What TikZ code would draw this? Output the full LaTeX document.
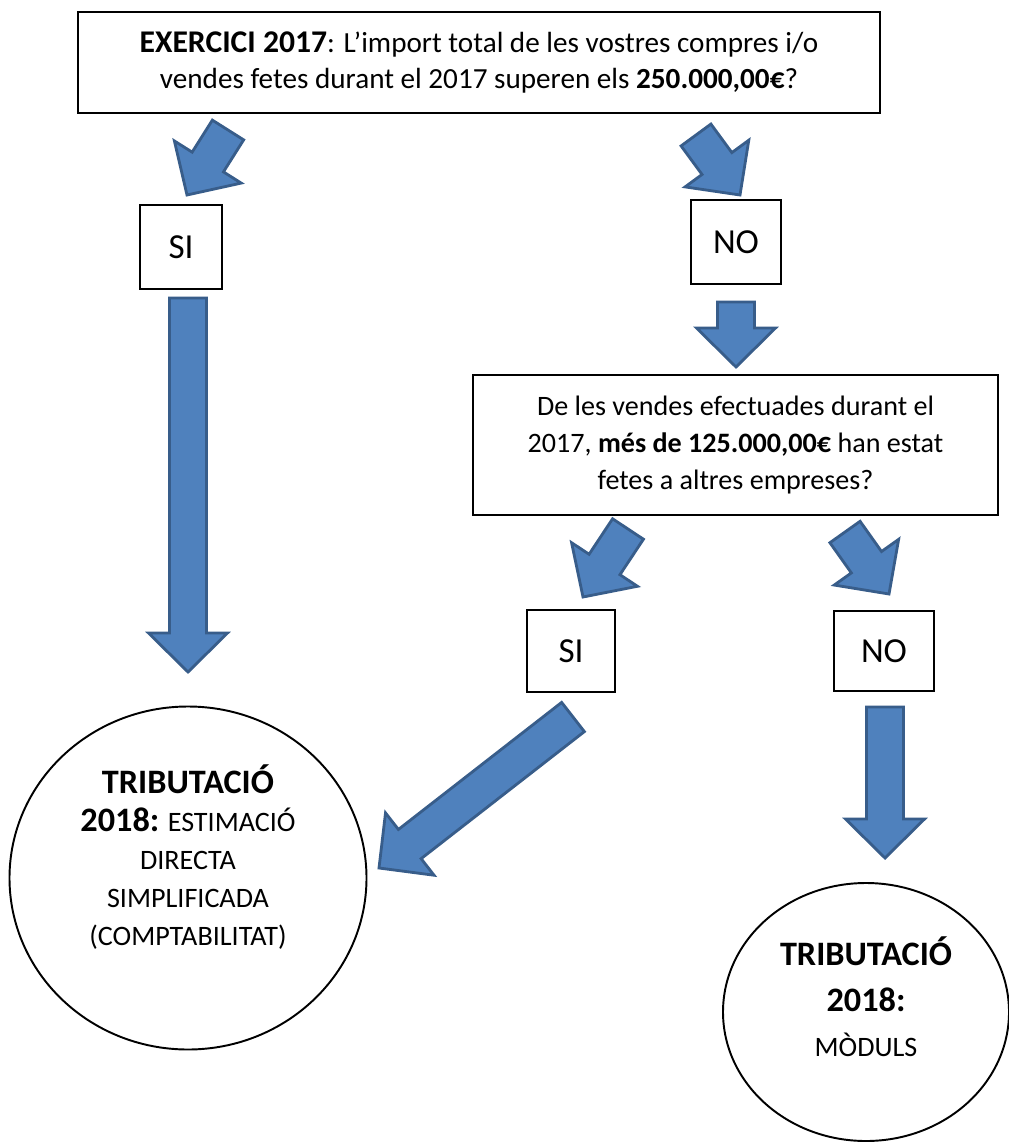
\documentclass[tikz,border=0pt]{standalone}
\usepackage{fontspec}
\setmainfont{Carlito}
\usetikzlibrary{calc,shapes.geometric}

\definecolor{arrowblue}{HTML}{4F81BD}
\definecolor{arrowedge}{HTML}{385D8A}

% block arrow from tail (#1) to tip (#2)
\newcommand{\blockarrow}[2]{%
	\coordinate (hb) at ($(#2)!0.78cm!(#1)$);
	\draw[blockarr] ($(#1)!0.37cm!90:(#2)$) -- ($(hb)!0.37cm!90:(#2)$)
		-- ($(hb)!0.79cm!90:(#2)$) -- (#2) -- ($(hb)!0.79cm!-90:(#2)$)
		-- ($(hb)!0.37cm!-90:(#2)$) -- ($(#1)!0.37cm!-90:(#2)$) -- cycle;
}
% larger bold words
\newcommand{\bigbold}[2]{{\bfseries\fontsize{#1}{\baselineskip}\selectfont #2}}

\begin{document}
\begin{tikzpicture}[x=0.02cm, y=-0.02cm,
	qbox/.style={draw, line width=1.4pt, inner sep=0pt, align=center},
	ansbox/.style={qbox, font=\fontsize{20}{24}\selectfont},
	resultcirc/.style={ellipse, draw, line width=1.1pt, inner sep=0pt},
	blockarr/.style={fill=arrowblue, draw=arrowedge, line width=1.6pt, line join=miter}]
	\useasboundingbox[fill=white] (0,0) rectangle (1008,1145);

	\node[qbox, minimum width=802*0.02cm, minimum height=101*0.02cm,
		font=\fontsize{16.6}{20}\selectfont] (q1) at (479,62.5)
		{\bigbold{18}{EXERCICI 2017}: L’import total de les vostres compres i/o\\
		vendes fetes durant el 2017 superen els \textbf{250.000,00€}?};

	\node[ansbox, minimum width=82*0.02cm, minimum height=84*0.02cm] (si1) at (181,247) {SI};
	\node[ansbox, minimum width=90*0.02cm, minimum height=84*0.02cm] (no1) at (736,242) {NO};

	\node[qbox, minimum width=525*0.02cm, minimum height=140*0.02cm,
		font=\fontsize{16}{21}\selectfont] (q2) at (735.5,445)
		{De les vendes efectuades durant el\\
		2017, \textbf{més de 125.000,00€} han estat\\
		fetes a altres empreses?};

	\node[ansbox, minimum width=88*0.02cm, minimum height=82*0.02cm] (si2) at (571,651) {SI};
	\node[ansbox, minimum width=100*0.02cm, minimum height=80*0.02cm] (no2) at (884,651) {NO};

	\node[resultcirc, minimum width=357*0.02cm, minimum height=343*0.02cm] (c1) at (188,878) {};
	\node[align=center, font=\fontsize{16}{21.6}\selectfont] (c1txt) at (188,857)
		{\bigbold{19.5}{TRIBUTACIÓ}\\ \bigbold{19.5}{2018:} ESTIMACIÓ\\ DIRECTA\\ SIMPLIFICADA\\ (COMPTABILITAT)};
	\node[resultcirc, minimum width=286*0.02cm, minimum height=258*0.02cm] (c2) at (866,1012) {};
	\node[align=center, font=\fontsize{16}{26}\selectfont] (c2txt) at (866,997)
		{\bigbold{19.5}{TRIBUTACIÓ}\\ \bigbold{19.5}{2018:}\\ MÒDULS};

	% arrow ends
	\coordinate (a1s) at (228,130);  \coordinate (a1e) at (187,195);
	\coordinate (a2s) at (696,135);  \coordinate (a2e) at (740,195);
	\coordinate (a3s) at (188,298);  \coordinate (a3e) at (188,672);
	\coordinate (a4s) at (736,302);  \coordinate (a4e) at (736,367);
	\coordinate (a5s) at (628,529);  \coordinate (a5e) at (583,597);
	\coordinate (a6s) at (845,532);  \coordinate (a6e) at (889,594);
	\coordinate (a7s) at (573,717);  \coordinate (a7e) at (379,868);
	\coordinate (a8s) at (885,707);  \coordinate (a8e) at (885,858);

	\foreach \i in {1,...,8}
		\blockarrow{a\i s}{a\i e};
\end{tikzpicture}
\end{document}
